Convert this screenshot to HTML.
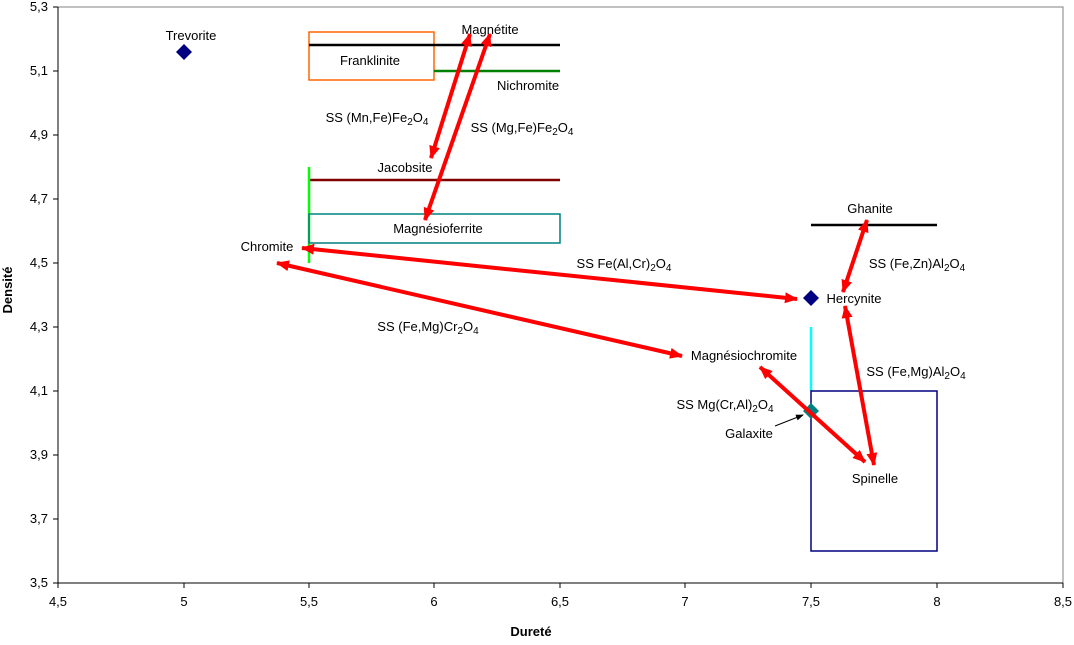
<!DOCTYPE html>
<html><head><meta charset="utf-8"><style>
body{margin:0;background:#fff;}
svg text{font-family:"Liberation Sans",Arial,sans-serif;font-size:13px;fill:#000;}
</style></head><body>
<svg width="1074" height="640" xmlns="http://www.w3.org/2000/svg">
<defs>
<marker id="ah" markerWidth="13" markerHeight="11" refX="12" refY="5.5" orient="auto-start-reverse" markerUnits="userSpaceOnUse"><path d="M0,0 L13,5.5 L0,11 Z" fill="#ff0000"/></marker>
<marker id="bh" markerWidth="8" markerHeight="8" refX="7" refY="4" orient="auto" markerUnits="userSpaceOnUse"><path d="M0,1 L8,4 L0,7 Z" fill="#000"/></marker>
</defs>
<rect x="58" y="7" width="1005" height="576" fill="#fff" stroke="#808080" stroke-width="1"/>
<g stroke="#000" stroke-width="1">
<line x1="53" y1="7" x2="58" y2="7"/><line x1="53" y1="71" x2="58" y2="71"/><line x1="53" y1="135" x2="58" y2="135"/><line x1="53" y1="199" x2="58" y2="199"/><line x1="53" y1="263" x2="58" y2="263"/><line x1="53" y1="327" x2="58" y2="327"/><line x1="53" y1="391" x2="58" y2="391"/><line x1="53" y1="455" x2="58" y2="455"/><line x1="53" y1="519" x2="58" y2="519"/><line x1="53" y1="583" x2="58" y2="583"/>
<line x1="58" y1="7" x2="58" y2="583"/><line x1="58" y1="583" x2="1063" y2="583"/>
<line x1="58" y1="583" x2="58" y2="588"/><line x1="184" y1="583" x2="184" y2="588"/><line x1="309" y1="583" x2="309" y2="588"/><line x1="434" y1="583" x2="434" y2="588"/><line x1="560" y1="583" x2="560" y2="588"/><line x1="685" y1="583" x2="685" y2="588"/><line x1="811" y1="583" x2="811" y2="588"/><line x1="937" y1="583" x2="937" y2="588"/><line x1="1063" y1="583" x2="1063" y2="588"/>
</g>
<g text-anchor="end">
<text x="48" y="11">5,3</text><text x="48" y="75">5,1</text><text x="48" y="139">4,9</text><text x="48" y="203">4,7</text><text x="48" y="267">4,5</text><text x="48" y="331">4,3</text><text x="48" y="395">4,1</text><text x="48" y="459">3,9</text><text x="48" y="523">3,7</text><text x="48" y="587">3,5</text>
</g>
<g text-anchor="middle">
<text x="58" y="606">4,5</text><text x="184" y="606">5</text><text x="309" y="606">5,5</text><text x="434" y="606">6</text><text x="560" y="606">6,5</text><text x="685" y="606">7</text><text x="811" y="606">7,5</text><text x="937" y="606">8</text><text x="1063" y="606">8,5</text>
<text x="531" y="636" font-weight="bold">Dureté</text>
<text x="0" y="0" font-weight="bold" transform="translate(12,290) rotate(-90)">Densité</text>
</g>
<rect x="309" y="32" width="125" height="48" fill="none" stroke="#ff6600" stroke-width="1.5"/>
<line x1="309" y1="45" x2="560" y2="45" stroke="#000" stroke-width="2.5"/>
<line x1="434" y1="71" x2="560" y2="71" stroke="#008000" stroke-width="2.5"/>
<line x1="309" y1="180" x2="560" y2="180" stroke="#800000" stroke-width="2.5"/>
<line x1="309" y1="167" x2="309" y2="263" stroke="#00ff00" stroke-width="2.5"/>
<rect x="309" y="214" width="251" height="29" fill="none" stroke="#008080" stroke-width="1.5"/>
<line x1="811" y1="225" x2="937" y2="225" stroke="#000" stroke-width="2.5"/>
<line x1="811" y1="327" x2="811" y2="391" stroke="#00ffff" stroke-width="2.5"/>
<rect x="811" y="391" width="126" height="160" fill="none" stroke="#000080" stroke-width="1.5"/>
<path d="M184,44 L192,52 L184,60 L176,52 Z" fill="#000080"/>
<path d="M811,290 L819,298 L811,306 L803,298 Z" fill="#000080"/>
<path d="M811,403 L819,411 L811,419 L803,411 Z" fill="#008080"/>
<g stroke="#ff0000" stroke-width="4" fill="none" marker-start="url(#ah)" marker-end="url(#ah)">
<line x1="431" y1="158" x2="470" y2="34"/>
<line x1="425" y1="220" x2="490" y2="34"/>
<line x1="302" y1="248" x2="797" y2="299"/>
<line x1="277" y1="263" x2="682" y2="356"/>
<line x1="843" y1="292" x2="867" y2="220"/>
<line x1="845" y1="306" x2="874" y2="465"/>
<line x1="760" y1="367" x2="865" y2="462"/>
</g>
<line x1="775" y1="426" x2="803" y2="415" stroke="#000" stroke-width="1" marker-end="url(#bh)"/>
<g text-anchor="middle">
<text x="191" y="40">Trevorite</text>
<text x="370" y="65">Franklinite</text>
<text x="490" y="34">Magnétite</text>
<text x="528" y="90">Nichromite</text>
<text x="377" y="122">SS (Mn,Fe)Fe<tspan font-size="10" dy="3">2</tspan><tspan dy="-3">O</tspan><tspan font-size="10" dy="3">4</tspan></text>
<text x="522" y="132">SS (Mg,Fe)Fe<tspan font-size="10" dy="3">2</tspan><tspan dy="-3">O</tspan><tspan font-size="10" dy="3">4</tspan></text>
<text x="405" y="172">Jacobsite</text>
<text x="438" y="233">Magnésioferrite</text>
<text x="267" y="251">Chromite</text>
<text x="624" y="268">SS Fe(Al,Cr)<tspan font-size="10" dy="3">2</tspan><tspan dy="-3">O</tspan><tspan font-size="10" dy="3">4</tspan></text>
<text x="428" y="331">SS (Fe,Mg)Cr<tspan font-size="10" dy="3">2</tspan><tspan dy="-3">O</tspan><tspan font-size="10" dy="3">4</tspan></text>
<text x="870" y="213">Ghanite</text>
<text x="917" y="268">SS (Fe,Zn)Al<tspan font-size="10" dy="3">2</tspan><tspan dy="-3">O</tspan><tspan font-size="10" dy="3">4</tspan></text>
<text x="854" y="303">Hercynite</text>
<text x="744" y="360">Magnésiochromite</text>
<text x="916" y="376">SS (Fe,Mg)Al<tspan font-size="10" dy="3">2</tspan><tspan dy="-3">O</tspan><tspan font-size="10" dy="3">4</tspan></text>
<text x="725" y="409">SS Mg(Cr,Al)<tspan font-size="10" dy="3">2</tspan><tspan dy="-3">O</tspan><tspan font-size="10" dy="3">4</tspan></text>
<text x="749" y="438">Galaxite</text>
<text x="875" y="483">Spinelle</text>
</g>
</svg>
</body></html>
